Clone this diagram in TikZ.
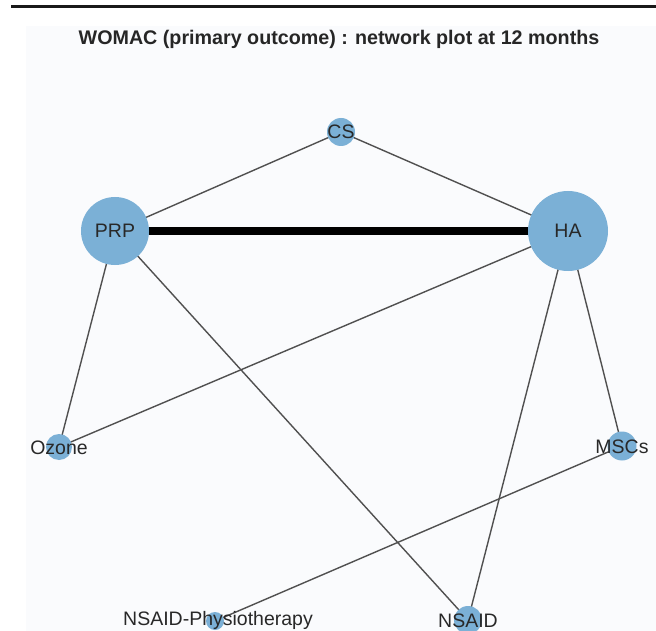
\documentclass[tikz,border=0pt]{standalone}
\usepackage{fontspec}
\setmainfont{Liberation Sans}
\pgfdeclarelayer{bottom}
\pgfdeclarelayer{edges}
\pgfsetlayers{bottom,edges,main}
\definecolor{vfill}{RGB}{123,176,214}
\definecolor{edgec}{RGB}{80,80,80}
\definecolor{panel}{RGB}{250,251,253}
\definecolor{txt}{RGB}{40,40,40}
\begin{document}
\begin{tikzpicture}[x=1pt,y=-1pt,
  vtx/.style={circle,fill=vfill,draw=none,inner sep=0pt},
  lbl/.style={font=\fontsize{19.5}{21}\selectfont,text=txt,inner sep=0pt,text height=14pt,text depth=0pt,anchor=center},
  thin edge/.style={draw=edgec,line width=1.4pt},
  thick edge/.style={draw=black,line width=8pt}]
\useasboundingbox (0,0) rectangle (656,631);
\begin{pgfonlayer}{bottom}
\fill[white] (0,0) rectangle (656,631);
\fill[panel] (26,26) rectangle (656,631);
\fill[black!90] (11,4.7) rectangle (656,8);
\end{pgfonlayer}
\node[font=\bfseries\fontsize{19.7}{22}\selectfont,text=black!85,anchor=base] (title) at (339,45) {WOMAC (primary outcome) : network plot at 12 months};
% vertices
\node[vtx,minimum size=28pt] (CS) at (341,132) {};
\node[vtx,minimum size=68pt] (PRP) at (115,231) {};
\node[vtx,minimum size=80pt] (HA) at (568,231) {};
\node[vtx,minimum size=26pt] (Ozone) at (59,447) {};
\node[vtx,minimum size=29pt] (MSCs) at (622,446) {};
\node[vtx,minimum size=18pt] (NP) at (215,621) {};
\node[vtx,minimum size=28pt] (NSAID) at (468,620) {};
% edges
\begin{pgfonlayer}{edges}
\draw[thick edge] (PRP.center) -- (HA.center);
\draw[thin edge] (PRP.center) -- (CS.center);
\draw[thin edge] (CS.center) -- (HA.center);
\draw[thin edge] (PRP.center) -- (Ozone.center);
\draw[thin edge] (PRP.center) -- (NSAID.center);
\draw[thin edge] (HA.center) -- (Ozone.center);
\draw[thin edge] (HA.center) -- (NSAID.center);
\draw[thin edge] (HA.center) -- (MSCs.center);
\draw[thin edge] (MSCs.center) -- (NP.center);
\end{pgfonlayer}
% labels
\node[lbl] (CSl) at (CS) {CS};
\node[lbl] (PRPl) at (PRP) {PRP};
\node[lbl] (HAl) at (HA) {HA};
\node[lbl] (Ozonel) at (Ozone) {Ozone};
\node[lbl] (MSCsl) at (MSCs) {MSCs};
\node[lbl] (NPl) at (218,618) {NSAID-Physiotherapy};
\node[lbl] (NSAIDl) at (NSAID) {NSAID};
\end{tikzpicture}
\end{document}
